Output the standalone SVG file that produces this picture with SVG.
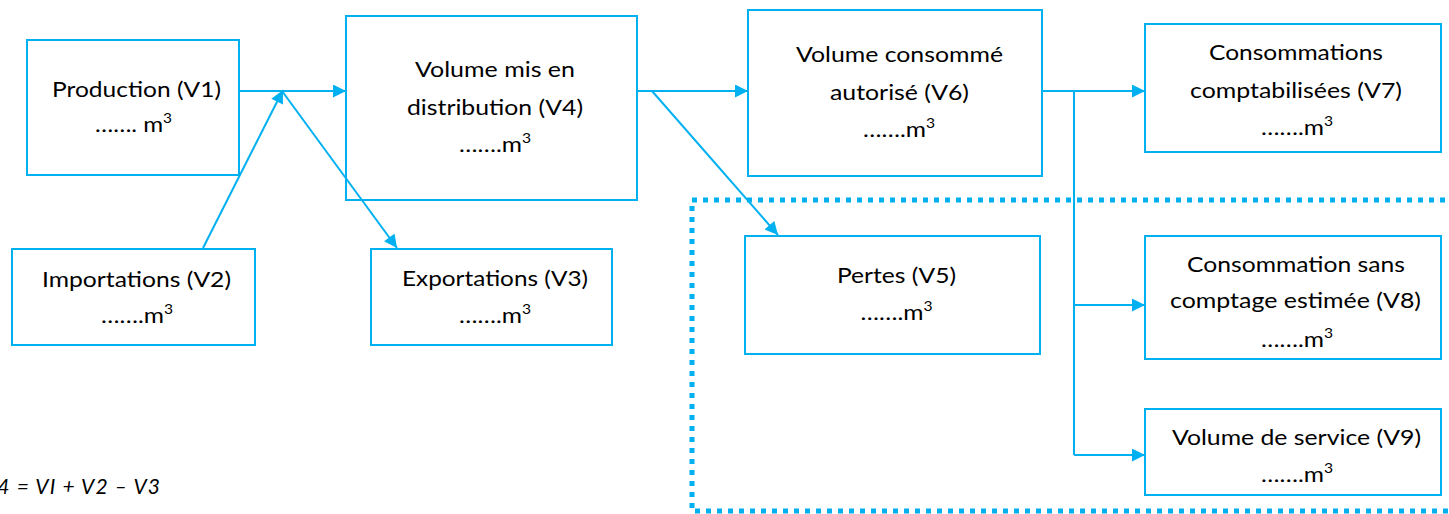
<svg xmlns="http://www.w3.org/2000/svg" width="1449" height="514" viewBox="0 0 1449 514">
  <style>
    .box { fill: #ffffff; stroke: #00B0F0; stroke-width: 2; }
    .lbl { font-family: Lato, "Open Sans", "Liberation Sans", sans-serif; font-size: 22px; fill: #000000; }
    .mid { text-anchor: middle; }
    .sup { font-size: 14px; }
    .conn { stroke: #00B0F0; stroke-width: 2; fill: none; }
    .arr { marker-end: url(#ah); }
    .dots { fill: none; stroke: #00B0F0; stroke-width: 5; stroke-dasharray: 5 6; }
    .formula { font-family: Lato, "Open Sans", "Liberation Sans", sans-serif; font-size: 21px; font-style: italic; fill: #000000; }
  </style>
  <defs>
    <marker id="ah" viewBox="0 0 10 10" refX="10" refY="5" markerWidth="14" markerHeight="13" markerUnits="userSpaceOnUse" orient="auto">
      <path d="M0,0 L10,5 L0,10 z" fill="#00B0F0"/>
    </marker>
  </defs>
  <rect fill="#ffffff" x="0" y="0" width="1449" height="514"/>

  <g id="loss-zone">
    <rect class="dots" x="692" y="200" width="800" height="311"/>
  </g>

  <g id="v1">
    <rect class="box" x="27" y="40" width="212" height="135"/>
    <text class="lbl" x="52" y="97" textLength="169" lengthAdjust="spacingAndGlyphs">Production (V1)</text>
    <text class="lbl mid" x="133.5" y="132" textLength="77" lengthAdjust="spacingAndGlyphs">……. m<tspan class="sup" dy="-9">3</tspan></text>
  </g>

  <g id="v2">
    <rect class="box" x="12" y="249" width="243" height="96"/>
    <text class="lbl" x="42" y="287" textLength="189" lengthAdjust="spacingAndGlyphs">Importations (V2)</text>
    <text class="lbl mid" x="137" y="323" textLength="72" lengthAdjust="spacingAndGlyphs">…….m<tspan class="sup" dy="-9">3</tspan></text>
  </g>

  <g id="v4">
    <rect class="box" x="346" y="16" width="291" height="184"/>
    <text class="lbl" x="415" y="77" textLength="160" lengthAdjust="spacingAndGlyphs">Volume mis en</text>
    <text class="lbl" x="407" y="115" textLength="176" lengthAdjust="spacingAndGlyphs">distribution (V4)</text>
    <text class="lbl mid" x="495" y="152" textLength="72" lengthAdjust="spacingAndGlyphs">…….m<tspan class="sup" dy="-9">3</tspan></text>
  </g>

  <g id="v3">
    <rect class="box" x="371" y="249" width="241" height="96"/>
    <text class="lbl" x="402" y="286" textLength="186" lengthAdjust="spacingAndGlyphs">Exportations (V3)</text>
    <text class="lbl mid" x="495" y="323" textLength="72" lengthAdjust="spacingAndGlyphs">…….m<tspan class="sup" dy="-9">3</tspan></text>
  </g>

  <g id="v6">
    <rect class="box" x="748" y="10" width="294" height="166"/>
    <text class="lbl" x="796" y="62" textLength="207" lengthAdjust="spacingAndGlyphs">Volume consommé</text>
    <text class="lbl" x="830" y="100" textLength="139" lengthAdjust="spacingAndGlyphs">autorisé (V6)</text>
    <text class="lbl mid" x="899" y="137" textLength="72" lengthAdjust="spacingAndGlyphs">…….m<tspan class="sup" dy="-9">3</tspan></text>
  </g>

  <g id="v7">
    <rect class="box" x="1145" y="24" width="296" height="128"/>
    <text class="lbl" x="1209" y="60" textLength="174" lengthAdjust="spacingAndGlyphs">Consommations</text>
    <text class="lbl" x="1190" y="98" textLength="212" lengthAdjust="spacingAndGlyphs">comptabilisées (V7)</text>
    <text class="lbl mid" x="1297" y="135" textLength="72" lengthAdjust="spacingAndGlyphs">…….m<tspan class="sup" dy="-9">3</tspan></text>
  </g>

  <g id="v5">
    <rect class="box" x="745" y="236" width="295" height="118"/>
    <text class="lbl" x="837" y="283" textLength="119" lengthAdjust="spacingAndGlyphs">Pertes (V5)</text>
    <text class="lbl mid" x="896.5" y="320" textLength="72" lengthAdjust="spacingAndGlyphs">…….m<tspan class="sup" dy="-9">3</tspan></text>
  </g>

  <g id="v8">
    <rect class="box" x="1145" y="236" width="296" height="123"/>
    <text class="lbl" x="1187" y="272" textLength="218" lengthAdjust="spacingAndGlyphs">Consommation sans</text>
    <text class="lbl" x="1170" y="308" textLength="251" lengthAdjust="spacingAndGlyphs">comptage estimée (V8)</text>
    <text class="lbl mid" x="1297" y="347" textLength="72" lengthAdjust="spacingAndGlyphs">…….m<tspan class="sup" dy="-9">3</tspan></text>
  </g>

  <g id="v9">
    <rect class="box" x="1145" y="409" width="296" height="86"/>
    <text class="lbl" x="1172" y="445" textLength="249" lengthAdjust="spacingAndGlyphs">Volume de service (V9)</text>
    <text class="lbl mid" x="1297" y="482" textLength="72" lengthAdjust="spacingAndGlyphs">…….m<tspan class="sup" dy="-9">3</tspan></text>
  </g>

  <g id="connectors">
    <line class="conn arr" x1="239" y1="91" x2="346" y2="91"/>
    <line class="conn arr" x1="203" y1="248" x2="283" y2="90"/>
    <line class="conn arr" x1="282" y1="91" x2="397" y2="248"/>
    <line class="conn arr" x1="637" y1="91" x2="748" y2="91"/>
    <line class="conn arr" x1="652" y1="91" x2="778" y2="235"/>
    <line class="conn arr" x1="1042" y1="91" x2="1145" y2="91"/>
    <polyline class="conn" points="1074,91 1074,455"/>
    <line class="conn arr" x1="1074" y1="305" x2="1145" y2="305"/>
    <line class="conn arr" x1="1074" y1="455" x2="1145" y2="455"/>
  </g>

  <g id="formula">
    <text class="formula" x="-17" y="494" textLength="177" lengthAdjust="spacing">V4 = VI  + V2 – V3</text>
  </g>
</svg>
